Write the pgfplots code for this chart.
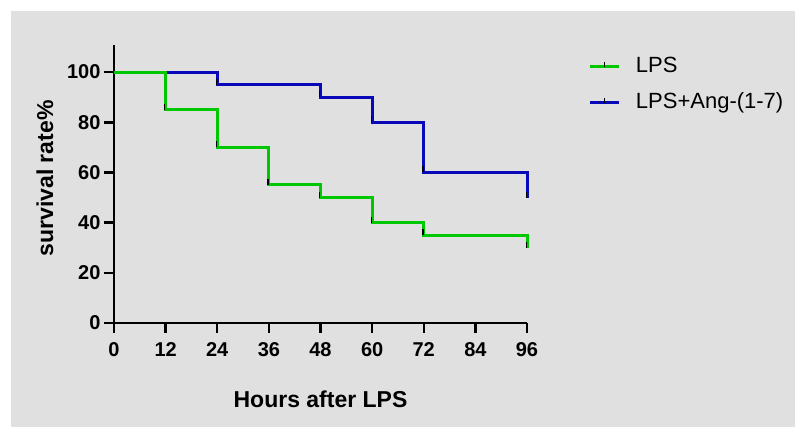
\documentclass[border=0pt]{standalone}
\usepackage{fontspec}
\setmainfont{Liberation Sans}
\usepackage{pgfplots}
\pgfplotsset{compat=1.18}
\definecolor{bggray}{RGB}{224,224,224}
\definecolor{lpsgreen}{RGB}{0,200,0}
\definecolor{angblue}{RGB}{8,8,185}

\begin{document}
\begin{tikzpicture}
\path[use as bounding box] (-114pt,-104pt) rectangle (681pt,323pt);
\fill[white] (-114pt,-104pt) rectangle (681pt,323pt);
\fill[bggray] (-103pt,-104pt) rectangle (681pt,312pt);
\begin{axis}[
  scale only axis, width=413pt, height=278pt,
  xmin=0, xmax=96, ymin=0, ymax=110.8,
  axis x line=bottom, axis y line=left,
  axis line style={-, line width=2.5pt, black},
  xtick={0,12,...,96}, ytick={0,20,...,100},
  tick align=outside, major tick length=10pt,
  tick style={line width=2.5pt, black},
  ticklabel style={font=\bfseries\fontsize{20}{24}\selectfont},
  xticklabel style={yshift=-6pt},
  /pgf/number format/assume math mode=true,
  xlabel={Hours after LPS}, ylabel={survival rate\%},
  label style={font=\bfseries\fontsize{23}{27}\selectfont},
  xlabel style={at={(axis description cs:0.5,-0.275)}, anchor=center},
  ylabel style={at={(axis description cs:-0.167,0.52)}, anchor=center},
  clip=false,
  legend image code/.code={
    \draw[#1, line width=3pt] (0pt,0pt) -- (29pt,0pt);
    \draw[black, line width=1pt] (14.5pt,0pt) -- (14.5pt,5pt);},
  legend style={draw=none, fill=none, inner sep=0pt, outer sep=0pt,
    at={(axis description cs:1.15,0.96)}, anchor=north west,
    font=\fontsize{22}{26}\selectfont, row sep=15pt, column sep=15pt,
    nodes={inner sep=0pt, text height=16pt, text depth=5pt}},
  legend cell align=left,
]
\addlegendimage{lpsgreen}
\addlegendentry{LPS}
\addlegendimage{angblue}
\addlegendentry{LPS+Ang-(1-7)}

% blue under green
\addplot[const plot, angblue, line width=3pt, forget plot]
  coordinates {(0,100) (24,95) (48,90) (60,80) (72,60) (96,50)};
\addplot[only marks, mark=|, mark size=3pt, black, forget plot,
  mark options={line width=1.2pt, yshift=3pt, xshift=-0.8pt}]
  coordinates {(24,95) (48,90) (60,80) (72,60) (96,50)};
\addplot[const plot, lpsgreen, line width=3pt, forget plot]
  coordinates {(0,100) (12,85) (24,70) (36,55) (48,50) (60,40) (72,35) (96,30)};
\addplot[only marks, mark=|, mark size=3pt, black, forget plot,
  mark options={line width=1.2pt, yshift=3pt, xshift=-0.8pt}]
  coordinates {(12,85) (24,70) (36,55) (48,50) (60,40) (72,35) (96,30)};
\end{axis}
\end{tikzpicture}
\end{document}
